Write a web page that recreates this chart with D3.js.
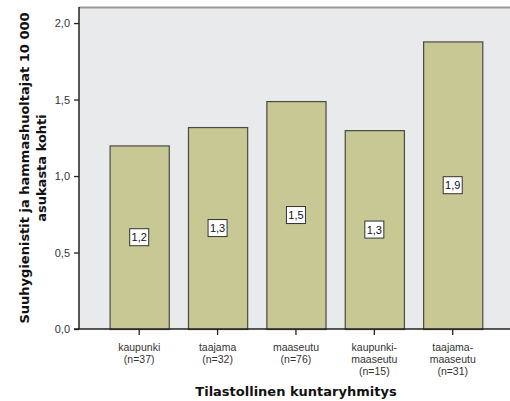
<!DOCTYPE html>
<html>
<head>
<meta charset="utf-8">
<script src="https://cdn.jsdelivr.net/npm/d3@7"></script>
<style>
  html, body { margin: 0; padding: 0; background: #fff; }
  svg { display: block; }
</style>
</head>
<body>
<svg id="chart" width="510" height="401"></svg>
<script>
// Ryhmät ja niiden havaintomäärät
const groups = [
  ["kaupunki", "(n=37)"],
  ["taajama", "(n=32)"],
  ["maaseutu", "(n=76)"],
  ["kaupunki-", "maaseutu", "(n=15)"],
  ["taajama-", "maaseutu", "(n=31)"]
];
const groupKeys = ["kaupunki", "taajama", "maaseutu", "kaupunki-maaseutu", "taajama-maaseutu"];
// Suuhygienistit ja hammashuoltajat 10 000 asukasta kohti
const values = [1.20, 1.32, 1.49, 1.30, 1.88];
const yTicks = [0, 0.5, 1.0, 1.5, 2.0];

const svg = d3.select("#chart");
const plot = { left: 79, right: 510, top: 7, bottom: 329 };

const fmt = v => d3.format(".1f")(v).replace(".", ",");

const y = d3.scaleLinear().domain([0, 2.105]).range([plot.bottom, plot.top]);
const x = d3.scaleBand().domain(groupKeys).range([100.2, 491.7]).paddingInner(0.245).paddingOuter(0.12);

// Piirtoalueen tausta
svg.append("rect")
  .attr("x", plot.left).attr("y", plot.top)
  .attr("width", plot.right - plot.left).attr("height", plot.bottom - plot.top)
  .attr("fill", "#e9eaec");
svg.append("line")
  .attr("x1", plot.left).attr("x2", plot.right)
  .attr("y1", plot.top + 0.5).attr("y2", plot.top + 0.5)
  .attr("stroke", "#9a9a9a").attr("stroke-width", 2);

// Pylväät
svg.append("g").selectAll("rect").data(values).join("rect")
  .attr("x", (d, i) => x(groupKeys[i]) + 0.5)
  .attr("y", d => y(d) + 0.5)
  .attr("width", x.bandwidth())
  .attr("height", d => y(0) - y(d))
  .attr("fill", "#c8c894")
  .attr("stroke", "#4a4a44")
  .attr("stroke-width", 1.2);

// Arvotunnisteet pylväiden keskellä
const lab = svg.append("g").selectAll("g").data(values).join("g")
  .attr("transform", (d, i) => `translate(${x(groupKeys[i]) + x.bandwidth() / 2},${(y(d) + y(0)) / 2})`);
lab.append("rect")
  .attr("x", -9.5).attr("y", -8.5).attr("width", 19).attr("height", 17)
  .attr("fill", "#fff").attr("stroke", "#333").attr("stroke-width", 1);
lab.append("text")
  .attr("text-anchor", "middle").attr("dy", "0.36em")
  .attr("font-family", "Liberation Sans, Arial, sans-serif").attr("font-size", 11)
  .attr("fill", "#111")
  .text(d => fmt(d));

// Y-akseli
const yAxis = svg.append("g")
  .attr("transform", `translate(${plot.left},0)`)
  .call(d3.axisLeft(y).tickValues(yTicks).tickSize(5).tickPadding(4).tickFormat(fmt));
yAxis.select(".domain").attr("stroke", "#222").attr("stroke-width", 1.5)
  .attr("d", `M0,${plot.top}V${plot.bottom}`);
yAxis.selectAll(".tick line").attr("stroke", "#222").attr("stroke-width", 1.3);
yAxis.selectAll(".tick text")
  .attr("font-family", "Liberation Sans, Arial, sans-serif").attr("font-size", 11).attr("fill", "#333");

// X-akseli
const xAxis = svg.append("g")
  .attr("transform", `translate(0,${plot.bottom})`)
  .call(d3.axisBottom(x).tickSize(6).tickFormat(""));
xAxis.select(".domain").attr("stroke", "#222").attr("stroke-width", 1.5)
  .attr("d", `M${plot.left - 5},0H${plot.right}`);
xAxis.selectAll(".tick line").attr("stroke", "#222").attr("stroke-width", 1.3);
xAxis.selectAll(".tick").each(function (d, i) {
  const t = d3.select(this).append("text")
    .attr("text-anchor", "middle")
    .attr("font-family", "Liberation Sans, Arial, sans-serif").attr("font-size", 10.5)
    .attr("fill", "#333");
  groups[i].forEach((line, j) => {
    t.append("tspan").attr("x", 0).attr("y", 22 + j * 12.2).text(line);
  });
});

// Akselien otsikot
svg.append("text")
  .attr("x", 296).attr("y", 396)
  .attr("text-anchor", "middle")
  .attr("font-family", "DejaVu Sans, Verdana, sans-serif").attr("font-weight", "bold")
  .attr("font-size", 13).attr("fill", "#111")
  .text("Tilastollinen kuntaryhmitys");

const yt = svg.append("text")
  .attr("transform", `translate(0,${(plot.top + plot.bottom) / 2}) rotate(-90)`)
  .attr("text-anchor", "middle")
  .attr("font-family", "DejaVu Sans, Verdana, sans-serif").attr("font-weight", "bold")
  .attr("font-size", 13).attr("fill", "#111");
yt.append("tspan").attr("x", 0).attr("y", 29).text("Suuhygienistit ja hammashuoltajat 10 000");
yt.append("tspan").attr("x", 0).attr("y", 46).text("asukasta kohti");
</script>
</body>
</html>
